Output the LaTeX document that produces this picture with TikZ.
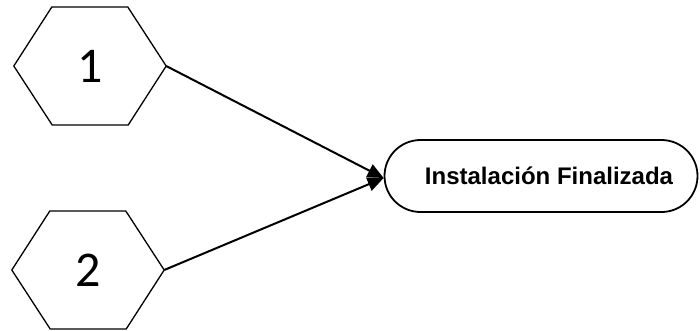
\documentclass[tikz,border=0pt]{standalone}
\usepackage{fontspec}
\setmainfont{Carlito}
\newfontfamily\labelfont{Liberation Sans}
\usetikzlibrary{arrows.meta,shapes.misc}

\tikzset{
  hexbox/.style={minimum width=152pt, minimum height=118pt, inner sep=0pt,
    font=\fontsize{50}{50}\selectfont},
  hexline/.style={line width=1.3pt, line join=miter},
  endbox/.style={rounded rectangle, draw, line width=1.8pt,
    minimum width=313pt, minimum height=72pt, inner sep=0pt,
    font=\labelfont\bfseries\fontsize{24}{24}\selectfont},
  flow/.style={line width=2pt, -{Triangle[length=16pt,width=14pt]}}
}

\begin{document}
\begin{tikzpicture}[x=1pt,y=-1pt]
  \useasboundingbox (0,0) rectangle (700,330);

  % two numbered hexagons
  \node[hexbox] (h1) at (90,66) {1};
  \node[hexbox] (h2) at (88,270) {2};
  \foreach \h in {h1,h2}{
    \draw[hexline] (\h.west) -- ++(38,-59) -- ++(76,0) -- (\h.east)
      -- ++(-38,59) -- ++(-76,0) -- cycle;
  }

  % terminal, label set slightly right of centre
  \node[endbox] (fin) at (541,176) {\hspace*{16pt}Instalación Finalizada};

  % connectors
  \draw[flow] (h1.east) -- ([yshift=-2pt]fin.west);
  \draw[flow] (h2.east) -- ([yshift=-2pt]fin.west);
\end{tikzpicture}
\end{document}
